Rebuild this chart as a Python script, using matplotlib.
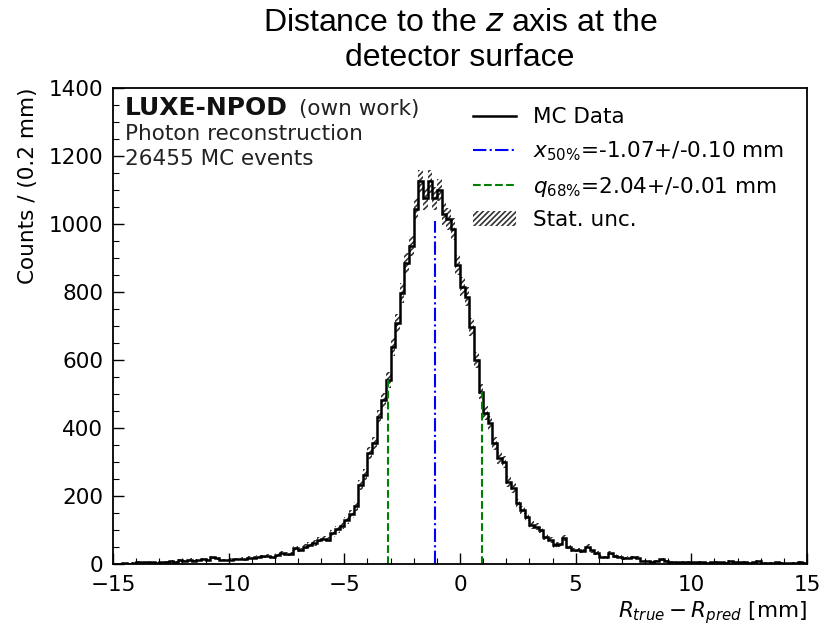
import numpy as np
import matplotlib
matplotlib.use("Agg")
import matplotlib.pyplot as plt
from matplotlib.patches import Patch
from matplotlib.lines import Line2D

# histogram of R_true - R_pred, 0.2 mm bins from -15 to 15 mm
bin_edges = np.round(np.arange(-15.0, 15.0001, 0.2), 1)
counts = [
    1, 0, 2, 1, 3, 7, 5, 6, 5, 4,
    5, 6, 8, 7, 11, 10, 13, 9, 12, 15,
    12, 20, 17, 12, 11, 13, 14, 16, 14, 18,
    19, 22, 23, 24, 20, 27, 32, 29, 30, 46,
    42, 51, 56, 62, 72, 75, 72, 90, 102, 113,
    128, 148, 170, 232, 262, 326, 356, 432, 482, 541,
    638, 709, 797, 885, 935, 1045, 1125, 1075, 1125, 1075,
    1100, 1030, 1015, 985, 879, 816, 786, 698, 600, 507,
    444, 414, 355, 311, 301, 242, 223, 179, 159, 139,
    115, 110, 100, 80, 71, 56, 58, 76, 50, 41,
    41, 38, 51, 40, 32, 22, 20, 33, 24, 22,
    17, 19, 20, 18, 10, 8, 7, 9, 14, 8,
    6, 6, 5, 7, 6, 5, 6, 5, 4, 5,
    6, 5, 4, 9, 6, 5, 6, 4, 5, 8,
    4, 4, 3, 5, 3, 2, 4, 3, 6, 3,
]

median = -1.07
q68 = 2.04
median_height = 1010
q_heights = [541, 507]   # heights of the left / right q68 lines

text_lines = ["Photon reconstruction", "26455 MC events"]

plt.rcParams["hatch.linewidth"] = 1.2

counts = np.array(counts, dtype=float)
err = np.sqrt(counts)
centers = 0.5 * (bin_edges[:-1] + bin_edges[1:])
width = bin_edges[1] - bin_edges[0]

fig = plt.figure(figsize=(8.29, 6.28), dpi=100)
ax = fig.add_axes([0.1363, 0.1019, 0.8372, 0.758])

# stat. uncertainty band
ax.bar(centers, 2 * err, bottom=counts - err, width=width, fill=False,
       hatch="//////", linewidth=0, edgecolor="#333333")
ax.stairs(counts, bin_edges, color="black", linewidth=1.8)

ax.plot([median, median], [0, median_height], color="blue", linestyle="-.", linewidth=1.5)
ax.plot([median - q68, median - q68], [0, q_heights[0]], color="green", linestyle="--", linewidth=1.5)
ax.plot([median + q68, median + q68], [0, q_heights[1]], color="green", linestyle="--", linewidth=1.5)

ax.set_xlim(-15, 15)
ax.set_ylim(0, 1400)
ax.set_xticks([-15, -10, -5, 0, 5, 10, 15])
ax.set_xticks(np.arange(-15, 16, 1), minor=True)
ax.set_yticks(np.arange(0, 1401, 200))
ax.set_yticks(np.arange(0, 1401, 50), minor=True)
ax.tick_params(which="both", direction="in", labelsize=15.5, top=False, right=False)
ax.tick_params(axis="y", pad=7)
ax.tick_params(axis="x", pad=8)
ax.tick_params(which="major", length=8, width=1.0)
ax.tick_params(which="minor", length=4, width=0.8)
for s in ax.spines.values():
    s.set_linewidth(1.3)

ax.set_xlabel(r"$R_{true} - R_{pred}$ [mm]", fontsize=15.5, loc="right", labelpad=3)
ax.set_ylabel("Counts / (0.2 mm)", fontsize=15.5, loc="top", labelpad=8)

ax.set_title("Distance to the $z$ axis at the\ndetector surface",
             fontsize=23, family="Liberation Sans", pad=16)

ax.text(0.0173, 0.943, "LUXE-NPOD", transform=ax.transAxes, fontsize=18,
        fontweight="bold", va="baseline", color="#111111")
ax.text(0.268, 0.943, "(own work)", transform=ax.transAxes, fontsize=15.5,
        va="baseline", color="#222222")
ax.text(0.0173, 0.891, text_lines[0], transform=ax.transAxes, fontsize=15.5,
        va="baseline", color="#222222")
ax.text(0.0173, 0.838, text_lines[1], transform=ax.transAxes, fontsize=15.5,
        va="baseline", color="#222222")

handles = [
    Line2D([], [], color="black", linewidth=1.8),
    Line2D([], [], color="blue", linestyle="-.", linewidth=1.5),
    Line2D([], [], color="green", linestyle="--", linewidth=1.5),
    Patch(facecolor="none", edgecolor="#333333", hatch="//////", linewidth=0),
]
labels = [
    "MC Data",
    r"$x_{50\%}$=-1.07+/-0.10 mm",
    r"$q_{68\%}$=2.04+/-0.01 mm",
    "Stat. unc.",
]
ax.legend(handles, labels, loc="upper right", frameon=False, fontsize=15.5,
          handlelength=2.0, labelspacing=0.55, bbox_to_anchor=(0.995, 1.0))

fig.savefig("out.png", dpi=100)
